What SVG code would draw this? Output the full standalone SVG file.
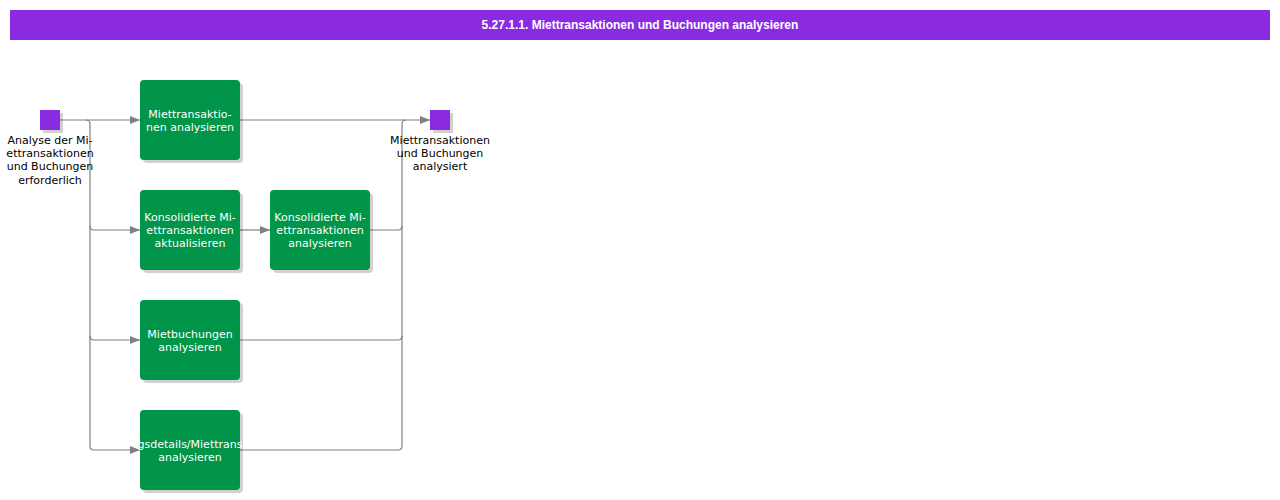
<svg xmlns="http://www.w3.org/2000/svg" width="1280" height="500" viewBox="0 0 1280 500">
<style>
.lbl{font-family:"DejaVu Sans",Verdana,sans-serif;font-size:11px;fill:#000;text-anchor:middle}
.bt{font-family:"DejaVu Sans",Verdana,sans-serif;font-size:11px;fill:#fff;text-anchor:middle}
.box{fill:#009548}
.sh{fill:#000;opacity:0.18}
.ev{fill:#8a2be2}
.c{fill:none;stroke:#808080;stroke-width:1.2}
</style>
<defs>
<marker id="ah" markerWidth="10" markerHeight="8" refX="10" refY="4" orient="auto" markerUnits="userSpaceOnUse">
<path d="M0,0 L10,4 L0,8 z" fill="#808080"/>
</marker>
<clipPath id="cp5"><rect x="137" y="410" width="106" height="80"/></clipPath>
</defs>
<rect x="0" y="0" width="1280" height="500" fill="#fff"/>
<g id="title">
<rect x="10" y="10" width="1260" height="30" fill="#8a2be2"/>
<text x="640" y="29" font-family="Liberation Sans,Arial,sans-serif" font-size="12" font-weight="bold" fill="#fff" text-anchor="middle">5.27.1.1. Miettransaktionen und Buchungen analysieren</text>
</g>
<g id="connectors">
<path class="c" d="M60,120 L140,120" marker-end="url(#ah)"/>
<path class="c" d="M86,120 Q90,120 90,124 L90,446 Q90,450 94,450 L140,450" marker-end="url(#ah)"/>
<path class="c" d="M90,226 Q90,230 94,230 L140,230" marker-end="url(#ah)"/>
<path class="c" d="M90,336 Q90,340 94,340 L140,340" marker-end="url(#ah)"/>
<path class="c" d="M240,120 L430,120" marker-end="url(#ah)"/>
<path class="c" d="M240,230 L270,230" marker-end="url(#ah)"/>
<path class="c" d="M370,230 L398,230 Q402,230 402,226 L402,124 Q402,120 406,120"/>
<path class="c" d="M240,340 L398,340 Q402,340 402,336 L402,226"/>
<path class="c" d="M240,450 L398,450 Q402,450 402,446 L402,336"/>
</g>
<g id="start">
<rect class="sh" x="43" y="113" width="20" height="20"/>
<rect class="ev" x="40" y="110" width="20" height="20"/>
<text class="lbl"><tspan x="50" y="144">Analyse der Mi-</tspan><tspan x="50" y="157">ettransaktionen</tspan><tspan x="50" y="170">und Buchungen</tspan><tspan x="50" y="184">erforderlich</tspan></text>
</g>
<g id="end">
<rect class="sh" x="433" y="113" width="20" height="20"/>
<rect class="ev" x="430" y="110" width="20" height="20"/>
<text class="lbl"><tspan x="440" y="144">Miettransaktionen</tspan><tspan x="440" y="157">und Buchungen</tspan><tspan x="440" y="170">analysiert</tspan></text>
</g>
<g id="n1">
<rect class="sh" x="143" y="83" width="100" height="80" rx="4"/>
<rect class="box" x="140" y="80" width="100" height="80" rx="4"/>
<text class="bt"><tspan x="190" y="118">Miettransaktio-</tspan><tspan x="190" y="131">nen analysieren</tspan></text>
</g>
<g id="n2">
<rect class="sh" x="143" y="193" width="100" height="80" rx="4"/>
<rect class="box" x="140" y="190" width="100" height="80" rx="4"/>
<text class="bt"><tspan x="190" y="221">Konsolidierte Mi-</tspan><tspan x="190" y="234">ettransaktionen</tspan><tspan x="190" y="247">aktualisieren</tspan></text>
</g>
<g id="n3">
<rect class="sh" x="273" y="193" width="100" height="80" rx="4"/>
<rect class="box" x="270" y="190" width="100" height="80" rx="4"/>
<text class="bt"><tspan x="320" y="221">Konsolidierte Mi-</tspan><tspan x="320" y="234">ettransaktionen</tspan><tspan x="320" y="247">analysieren</tspan></text>
</g>
<g id="n4">
<rect class="sh" x="143" y="303" width="100" height="80" rx="4"/>
<rect class="box" x="140" y="300" width="100" height="80" rx="4"/>
<text class="bt"><tspan x="190" y="338">Mietbuchungen</tspan><tspan x="190" y="351">analysieren</tspan></text>
</g>
<g id="n5">
<rect class="sh" x="143" y="413" width="100" height="80" rx="4"/>
<rect class="box" x="140" y="410" width="100" height="80" rx="4"/>
<text class="bt" clip-path="url(#cp5)"><tspan x="190" y="448">gsdetails/Miettrans</tspan><tspan x="190" y="461">analysieren</tspan></text>
</g>
</svg>
